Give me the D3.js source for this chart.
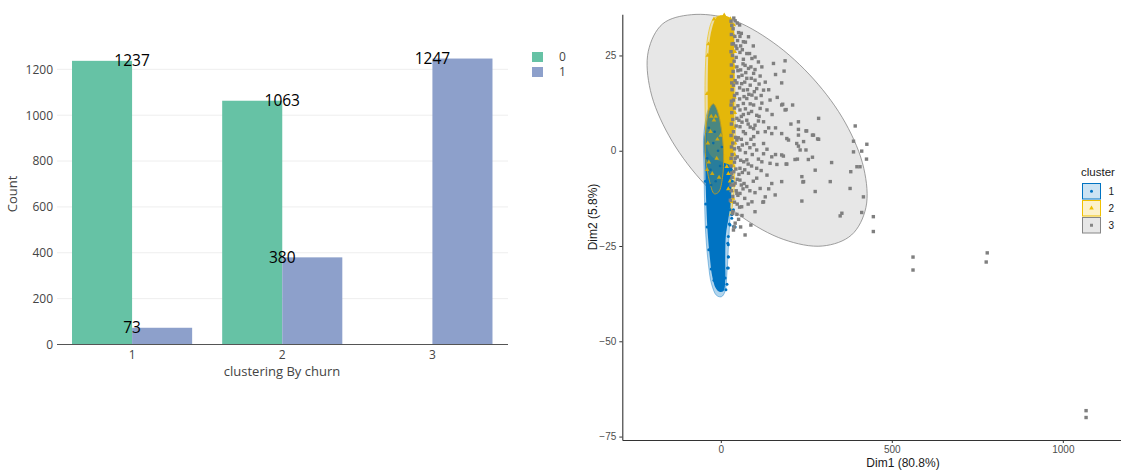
<!DOCTYPE html>
<html><head><meta charset="utf-8">
<script src="https://cdn.jsdelivr.net/npm/d3@7"></script>
<style>
body{margin:0;background:#fff;}
svg{display:block;}
</style>
</head><body>
<svg id="c" width="1121" height="473"></svg>
<script>
// ---------- LEFT CHART DATA ----------
const clusters = ["1", "2", "3"];
const churnLevels = ["0", "1"];
const churn0 = [1237, 1063, null];
const churn1 = [73, 380, 1247];
const yTicksLeft = [0, 200, 400, 600, 800, 1000, 1200];
const churnColors = ["#66c2a5", "#8da0cb"];

// ---------- RIGHT CHART DATA ----------
const xTicksRight = [0, 500, 1000];
const yTicksRight = [-75, -50, -25, 0, 25];
const clusterLevels = ["1", "2", "3"];
const clusterColors = ["#0073C2", "#EFC000", "#868686"];

const grayPoints = [
[42,34.1],[32,32.9],[56,30],[81,29.9],[66,28.6],[37,28.1],[47,26.8],[76,25.5],[100,24.6],[110,23.3],[91,24.2],[154,22.9],[188,23.6],[71,22.4],[47,22],[81,21.6],[96,20.3],[185,20.9],[52,19.4],[76,19],[100,18.5],[61,17.6],[37,17.2],[86,17.2],[178,17.8],[125,15.9],[105,16.3],[66,15.9],[47,15],[91,14.6],[76,13.7],[37,13.3],[144,13.3],[66,12.4],[96,12],[115,11.1],[135,10.7],[178,12],[188,10.7],[56,10.7],[81,9.8],[105,9.3],[47,8.5],[76,8],[125,7.6],[100,6.7],[56,6.3],[227,7.6],[286,8.5],[37,5],[66,5],[130,5],[149,4.5],[178,4.5],[227,5.6],[251,5.2],[271,4.1],[96,3.7],[47,2.8],[76,1.9],[125,1.9],[193,3.2],[222,1.9],[242,2.4],[286,3],[232,0.2],[56,0.2],[105,0.2],[149,-1.6],[178,-1.1],[217,-2.3],[256,-2.3],[324,-3.1],[42,-2],[76,-2.4],[120,-2.9],[144,-3.3],[164,-3.6],[193,-3.5],[56,-4.6],[105,-4.6],[32,-5.9],[81,-5.9],[135,-6.4],[276,-5.1],[237,-6.8],[320,-8.1],[56,-7.7],[105,-7.2],[149,-8.6],[178,-8.1],[242,-8.1],[37,-9],[76,-9.4],[115,-9.9],[159,-11.6],[276,-10.7],[378,-9.9],[56,-11.2],[91,-13.4],[125,-13.4],[130,-12.1],[237,-13.2],[61,-14.7],[354,-16.4],[349,-17.1],[412,-16.2],[446,-17.3],[446,-21.2],[71,-22.1],[47,-16.7],[37,-20.8],[393,6.5],[388,2.5],[427,1.7],[412,-0.1],[398,-4.2],[407,-4.2],[380,-5.5],[417,-12.1],[388,-0.3],[426,-2.2],
[562,-27.9],[562,-31.3],[779,-26.8],[776,-29.2],[1068,-68.2],[1068,-70],
[249,5.2],[268,4.1],[283,3.1],[198,2.8],[227,1.2],[249,0.2],[183,-1.4],[191,-3.5],[224,-2.2],[268,-1.7],[240,-8.2],[227,4.1],[181,12.2],[191,10.8],
[30,34],[48,33.5],[36,32],[31,30.5],[52,31],[41,30],[60,30.8],[33,28],[58,27.5],[72,28.5],[49,28.9],[34,25],[45,24.5],[56,25.8],[66,24],[84,25.5],
[31,22.5],[58,21.2],[65,22.8],[88,22],[100,21.3],[31,19.5],[42,18.4],[62,19.8],[70,18],[89,19],[115,19.6],[33,16],[55,16.5],[78,16],[98,15.5],[112,17.5],
[31,13],[55,13.6],[86,12.3],[103,13.8],[120,12.5],[32,10],[40,11.2],[66,9.5],[90,10.3],[112,9],[31,7],[45,6.5],[62,7.5],[86,6.2],[110,7.8],[140,6],
[30,4],[51,3.4],[72,4.5],[88,3],[108,4.8],[31,1],[40,0.5],[63,1.5],[85,0.8],[97,1.6],[135,0.4],[33,-1],[48,-1.6],[67,-2.9],[92,-1],[110,-2.2],
[30,-4],[44,-4.8],[63,-5.7],[90,-4],[118,-5.2],[33,-7],[48,-7.5],[68,-8.6],[95,-8],[31,-10.5],[50,-11.7],[65,-10],[100,-11],[40,-13.5],[55,-14.8],[80,-14],
[35,-16.5],[52,-18],[39,-20],[35,-16],[47,-11.2],[123,-13.5],[28,-13],[30,-9],
[38,34.8],[55,33],[44,27.5],[63,26.5],[39,23.5],[50,21],[73,20.5],[36,20.8],[47,17.8],[68,14.2],[82,14.8],[40,14.5],[50,11.8],[72,11],[60,9],[35,8.2],
[53,8],[80,7],[43,3.5],[60,3],[96,5.8],[35,2],[52,0.8],[72,-0.5],[40,-3],[58,-2.5],[80,-3.5],[38,-5.5],[70,-5],[53,-6.2],[42,-8.5],[60,-9],
[85,-10.5],[35,-12],[45,-10.5],[70,-12.5],[48,-14],[62,-17],[42,-19],[58,-20],[30,-2],[30,12],[30,26],[32,17.8],[95,27.5],[120,22],[130,18],[140,16],
[160,20],[118,14.5],[150,9.5],[165,14],[160,6],[125,-0.8],[160,-1],[205,7],[210,12],[140,-10],[100,-16],[88,-19.5]
];

const yellowPoints = [
[38,33],[40,30],[41,26],[39,22],[42,18],[40,14],[41,10],[39,6],[42,2],[40,-1],[37,-4],[35,-7],[38,-9],[32,-10.5],[36,-12.5],[32,-13.4],[27,-8],[22,-6],[17.5,-4.2],[12.6,-1.6],[22,-10],[30,-6],[26,-3],
[-38,25],[-40,15],[-41,5],[-36,28],[-20,34.5],[10,35.6],[28,34.6]
];
const yellowInner = [[-30,5],[-20,8],[-10,3],[-35,-3],[-25,-6],[-12,-2],[0,4],[-5,-7],[-38,2],[-28,9],[-15,9],[-40,-5]];
const bluePoints = [
[25,-19.2],[20.5,-24.3],[22,-27.8],[19.5,-30.8],[12.6,-33.4],[32,-17.7],[37,-19.9],[27,-15.5],[27,-19.5],[22,-22.5],[22,-24.7],[22,-27.9],[22,-30.8],[32,-16.8],[37,-15.5],[42,-20],[28,-12],[34,-8],[31,-5],[18,-35],[15,-36.5],
[-45,-8],[-44,-14],[-40,-20],[-35,-26],[-28,-31],[-20,-34]
];
const blueInner = [[-40,-2],[-30,-5],[-22,2],[-15,-8],[-8,0],[-35,6],[-18,5],[-2,-4],[-28,-9],[3,1]];

const grayEllipse = [
[382.2,-22.1],[297.9,-25.0],[184.2,-23.3],[59.1,-17.2],[-59.1,-7.6],[-152.0,4.0],[-205.8,15.8],[-212.0,26.1],
[-169.9,33.3],[-85.7,35.7],[28.1,34.5],[153.2,28.4],[271.3,18.8],[364.3,7.3],[418.1,-4.6],[424.3,-14.9]
];
const yellowEllipse = [
[3,35.5],[22,34.6],[34,30],[40,20],[42,8],[41,-4],[36,-13],[25,-17],[8,-17],[-12,-15],[-30,-10],[-42,0],[-46,12],[-45,22],[-38,30],[-22,34.5]
];
const blueEllipse = [
[-49,5],[-49,-5],[-47,-15],[-44,-22],[-36,-30],[-27,-35],[-12,-38],[2,-38.3],[12,-37],[18,-32],[24,-22],[30,-12],[32,-2],[25,8],[5,14],[-30,12]
];
const tealEllipse = [
[-22,12.3],[-10,10.5],[2,5.5],[8,-1],[5,-7],[-6,-10.8],[-19,-11.3],[-33,-8],[-43,-3],[-46,2],[-42,7],[-33,11]
];
const yellowCore = [
[-12,35],[5,35.5],[25,35],[37,33],[39,25],[39,15],[38,5],[37,-1],[32,-4],[20,-3.5],[5,-3],[-20,-2],[-37,0],[-38,10],[-38,20],[-35,27],[-26,32]
];
const blueCore = [
[-44,5],[-45,-5],[-42,-15],[-38,-22],[-32,-28],[-25,-33],[-15,-36],[-4,-37],[8,-36.8],[13,-34],[13,-28],[15,-22],[22,-18],[28,-14],[31,-8],[33,-3],[28,3],[10,6],[-20,7]
];

const svg = d3.select("#c");

// =============== LEFT: bar chart ===============
const fontL = "'Open Sans', 'Liberation Sans', Arial, sans-serif";
const xb = d3.scaleBand().domain(clusters).range([57, 507.5]).paddingInner(0.2).paddingOuter(0.1);
const xs = d3.scaleBand().domain(churnLevels).range([0, xb.bandwidth()]);
const yl = d3.scaleLinear().domain([0, 1312.6]).range([344.5, 43.5]);
const gL = svg.append("g").style("font-family", fontL);

gL.append("g").selectAll("line").data(yTicksLeft.slice(1)).join("line")
  .attr("x1", 57).attr("x2", 508).attr("y1", d => yl(d)).attr("y2", d => yl(d))
  .attr("stroke", "#eeeeee").attr("stroke-width", 1);

const barRows = [];
clusters.forEach((c, i) => {
  if (churn0[i] != null) barRows.push({c, s: "0", v: churn0[i]});
  if (churn1[i] != null) barRows.push({c, s: "1", v: churn1[i]});
});
gL.append("g").selectAll("rect").data(barRows).join("rect")
  .attr("x", d => xb(d.c) + xs(d.s)).attr("width", xs.bandwidth())
  .attr("y", d => yl(d.v)).attr("height", d => yl(0) - yl(d.v))
  .attr("fill", d => churnColors[churnLevels.indexOf(d.s)]);

const yAxL = d3.axisLeft(yl).tickValues(yTicksLeft).tickFormat(d3.format("d")).tickSize(0).tickPadding(4);
const gyl = gL.append("g").attr("transform", "translate(57,0)").call(yAxL);
gyl.select(".domain").remove();
gyl.selectAll("text").attr("fill", "#444").style("font-size", "12px").style("font-family", fontL);

gL.append("line").attr("x1", 57).attr("x2", 508).attr("y1", yl(0)).attr("y2", yl(0))
  .attr("stroke", "#555").attr("stroke-width", 1);
const xAxL = d3.axisBottom(xb).tickSize(0).tickPadding(6);
const gxl = gL.append("g").attr("transform", `translate(0,${yl(0)})`).call(xAxL);
gxl.select(".domain").remove();
gxl.selectAll("text").attr("fill", "#444").style("font-size", "12px").style("font-family", fontL);

gL.append("g").selectAll("text").data(barRows).join("text")
  .attr("x", d => xb(d.c) + xb.bandwidth() / 2).attr("y", d => yl(d.v))
  .attr("dy", "0.36em").attr("text-anchor", "middle")
  .style("font-size", "15.5px").attr("fill", "#000").text(d => d.v);

gL.append("text").attr("x", 282).attr("y", 376).attr("text-anchor", "middle")
  .style("font-size", "13px").attr("fill", "#444").text("clustering By churn");
gL.append("text").attr("transform", "translate(17,194) rotate(-90)").attr("text-anchor", "middle")
  .style("font-size", "13px").attr("fill", "#444").text("Count");

const legL = gL.append("g").selectAll("g").data(churnLevels).join("g")
  .attr("transform", (d, i) => `translate(532,${52 + i * 15})`);
legL.append("rect").attr("width", 11).attr("height", 10).attr("fill", (d, i) => churnColors[i]);
legL.append("text").attr("x", 27).attr("y", 5).attr("dy", "0.36em").style("font-size", "12px")
  .attr("fill", "#444").text(d => d);

// =============== RIGHT: cluster plot ===============
const fontR = "'Liberation Sans', Arial, sans-serif";
const xr = d3.scaleLinear().domain([-288, 1171]).range([622.3, 1121.3]);
const yr = d3.scaleLinear().domain([-75.9, 35.8]).range([440, 14.3]);
const gR = svg.append("g").style("font-family", fontR);
const shape = d3.line().x(d => xr(d[0])).y(d => yr(d[1])).curve(d3.curveCatmullRomClosed);

gR.append("path").attr("d", shape(grayEllipse)).attr("fill", "#868686").attr("fill-opacity", 0.2)
  .attr("stroke", "#7a7a7a").attr("stroke-opacity", 0.9).attr("stroke-width", 0.8);
gR.append("path").attr("d", shape(blueEllipse)).attr("fill", "#0073C2").attr("fill-opacity", 0.3)
  .attr("stroke", "#0073C2").attr("stroke-opacity", 0.5).attr("stroke-width", 0.8);
gR.append("path").attr("d", shape(yellowEllipse)).attr("fill", "#EFC000").attr("fill-opacity", 0.25)
  .attr("stroke", "#EFC000").attr("stroke-opacity", 0.8).attr("stroke-width", 0.8);

gR.append("path").attr("d", shape(blueCore)).attr("fill", "#0073C2");
gR.append("path").attr("d", shape(yellowCore)).attr("fill", "#E4B70A");

const tri = d3.symbol().type(d3.symbolTriangle).size(9);
gR.append("g").selectAll("path").data(yellowPoints).join("path")
  .attr("d", tri).attr("transform", d => `translate(${xr(d[0])},${yr(d[1])})`).attr("fill", "#E4B70A");
gR.append("g").selectAll("circle").data(bluePoints).join("circle")
  .attr("cx", d => xr(d[0])).attr("cy", d => yr(d[1])).attr("r", 1.5).attr("fill", "#0073C2");

gR.append("path").attr("d", shape(tealEllipse)).attr("fill", "#2f7f95").attr("fill-opacity", 0.85)
  .attr("stroke", "#b39a2a").attr("stroke-width", 1);
gR.append("g").selectAll("path").data(yellowInner).join("path")
  .attr("d", tri).attr("transform", d => `translate(${xr(d[0])},${yr(d[1])})`).attr("fill", "#C9A814");
gR.append("g").selectAll("circle").data(blueInner).join("circle")
  .attr("cx", d => xr(d[0])).attr("cy", d => yr(d[1])).attr("r", 1.3).attr("fill", "#0a6aa5");

gR.append("g").selectAll("rect").data(grayPoints).join("rect")
  .attr("x", d => xr(d[0]) - 1.7).attr("y", d => yr(d[1]) - 1.7)
  .attr("width", 3.4).attr("height", 3.4).attr("fill", "#7f7f7f");

// axes
const gxr = gR.append("g").attr("transform", "translate(0,440)")
  .call(d3.axisBottom(xr).tickValues(xTicksRight).tickFormat(d3.format("d")).tickSize(3).tickSizeOuter(0).tickPadding(3));
const gyr = gR.append("g").attr("transform", "translate(622.3,0)")
  .call(d3.axisLeft(yr).tickValues(yTicksRight).tickFormat(d3.format("d")).tickSize(3).tickSizeOuter(0).tickPadding(3));
[gxr, gyr].forEach(g => {
  g.select(".domain").attr("stroke", "#333").attr("stroke-width", 1.1);
  g.selectAll(".tick line").attr("stroke", "#333");
  g.selectAll("text").attr("fill", "#4d4d4d").style("font-size", "10px").style("font-family", fontR);
});

gR.append("text").attr("x", 903).attr("y", 467).attr("text-anchor", "middle")
  .style("font-size", "12px").attr("fill", "#1a1a1a").text("Dim1 (80.8%)");
gR.append("text").attr("transform", "translate(597,217) rotate(-90)").attr("text-anchor", "middle")
  .style("font-size", "12px").attr("fill", "#1a1a1a").text("Dim2 (5.8%)");

// legend
gR.append("text").attr("x", 1081).attr("y", 176).style("font-size", "11.5px").attr("fill", "#1a1a1a").text("cluster");
const legR = gR.append("g").selectAll("g").data(clusterLevels).join("g")
  .attr("transform", (d, i) => `translate(1082.5,${183.5 + i * 17})`);
legR.append("rect").attr("width", 18).attr("height", 15.5)
  .attr("fill", (d, i) => clusterColors[i]).attr("fill-opacity", 0.2)
  .attr("stroke", (d, i) => clusterColors[i]).attr("stroke-width", 1);
legR.each(function(d, i) {
  const g = d3.select(this);
  if (i === 0) g.append("circle").attr("cx", 9).attr("cy", 7.75).attr("r", 1.5).attr("fill", clusterColors[0]);
  else if (i === 1) g.append("path").attr("d", tri).attr("transform", "translate(9,7.75)").attr("fill", clusterColors[1]);
  else g.append("rect").attr("x", 7.5).attr("y", 6.25).attr("width", 3).attr("height", 3).attr("fill", clusterColors[2]);
});
legR.append("text").attr("x", 26).attr("y", 8).attr("dy", "0.36em").style("font-size", "10px")
  .attr("fill", "#1a1a1a").text(d => d);
</script>
</body></html>
